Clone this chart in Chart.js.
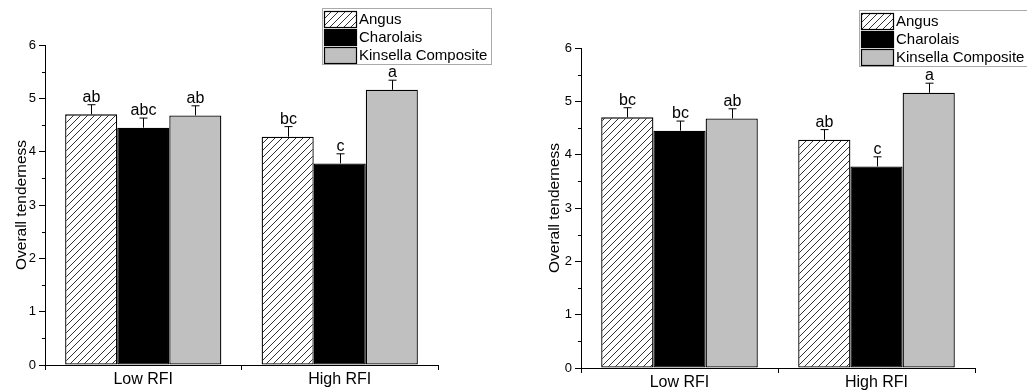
<!DOCTYPE html>
<html>
<head>
<meta charset="utf-8">
<script src="https://cdn.jsdelivr.net/npm/chart.js@4/dist/chart.umd.min.js"></script>
<style>
  html, body { margin: 0; padding: 0; background: #fff; }
  #wrap { position: relative; width: 1027px; height: 391px; overflow: hidden; }
  canvas { position: absolute; top: 0; }
</style>
</head>
<body>
<div id="wrap">
  <canvas id="left" width="520" height="391" style="left:0"></canvas>
  <canvas id="right" width="507" height="391" style="left:520px"></canvas>
</div>
<script>
// data
var groups = ["Low RFI", "High RFI"];
var breeds = ["Angus", "Charolais", "Kinsella Composite"];
var angus = [4.70, 4.28];
var charolais = [4.45, 3.78];
var kinsella = [4.68, 5.16];
var angusErr = [0.18, 0.19];
var charolaisErr = [0.18, 0.18];
var kinsellaErr = [0.18, 0.18];
var yTicks = [0, 1, 2, 3, 4, 5, 6];

// significance letters, left and right panels
var lettersLeft = [["ab", "bc"], ["abc", "c"], ["ab", "a"]];
var lettersRight = [["bc", "ab"], ["bc", "c"], ["ab", "a"]];

var FONT = "'Liberation Sans', Arial, Helvetica, sans-serif";

// hatch pattern for Angus
function makeHatch() {
	var s = 7;
	var c = document.createElement("canvas");
	c.width = s; c.height = s;
	var g = c.getContext("2d");
	g.fillStyle = "#fff";
	g.fillRect(0, 0, s, s);
	g.strokeStyle = "#333";
	g.lineWidth = 1;
	g.beginPath();
	g.moveTo(0, s); g.lineTo(s, 0);
	g.moveTo(-1, 1); g.lineTo(1, -1);
	g.moveTo(s - 1, s + 1); g.lineTo(s + 1, s - 1);
	g.stroke();
	return g.createPattern(c, "repeat");
}

// error bars, letters, minor ticks and legend box
var extras = {
	id: "extras",
	afterDatasetsDraw: function(chart, args, opts) {
		var ctx = chart.ctx;
		var y = chart.scales.y;
		var errs = [angusErr, charolaisErr, kinsellaErr];
		ctx.save();
		ctx.strokeStyle = "#000";
		ctx.fillStyle = "#000";
		ctx.lineWidth = 1;
		ctx.font = "16px " + FONT;
		ctx.textAlign = "center";
		ctx.textBaseline = "alphabetic";
		chart.data.datasets.forEach(function(ds, i) {
			var meta = chart.getDatasetMeta(i);
			meta.data.forEach(function(bar, j) {
				var x = Math.round(bar.x) + 0.5;
				var top = y.getPixelForValue(ds.data[j] + errs[i][j]);
				ctx.beginPath();
				ctx.moveTo(x, bar.y);
				ctx.lineTo(x, top);
				ctx.moveTo(x - 4, top);
				ctx.lineTo(x + 4, top);
				ctx.stroke();
				ctx.fillText(opts.letters[i][j], x, top - 3);
			});
		});
		// minor ticks
		var left = chart.chartArea.left;
		for (var v = 0.5; v < 6; v += 1) {
			var py = Math.round(y.getPixelForValue(v)) + 0.5;
			ctx.beginPath();
			ctx.moveTo(left, py);
			ctx.lineTo(left - 3, py);
			ctx.stroke();
		}
		ctx.restore();
	},
	afterDraw: function(chart, args, opts) {
		var ctx = chart.ctx;
		var lg = opts.legend;
		ctx.save();
		ctx.strokeStyle = "#aaa";
		ctx.lineWidth = 1;
		ctx.strokeRect(lg.x + 0.5, lg.y + 0.5, lg.w, lg.h);
		ctx.font = "15px " + FONT;
		ctx.textAlign = "left";
		ctx.textBaseline = "middle";
		chart.data.datasets.forEach(function(ds, i) {
			var ry = lg.y + 3 + i * 18;
			ctx.fillStyle = ds.backgroundColor;
			ctx.fillRect(lg.x + 2, ry, 33, 17);
			ctx.strokeStyle = "#000";
			ctx.lineWidth = 1.2;
			ctx.strokeRect(lg.x + 2.5, ry + 0.5, 32, 16);
			ctx.fillStyle = "#000";
			ctx.fillText(ds.label, lg.x + 37, ry + 8.5);
		});
		ctx.restore();
	}
};

function makeChart(id, letters, geom) {
	var ctx = document.getElementById(id).getContext("2d");
	var hatch = makeHatch();
	var series = [angus, charolais, kinsella];
	var fills = [hatch, "#000000", "#c0c0c0"];
	var datasets = [];
	for (var i in breeds) {
		datasets.push({
			label: breeds[i],
			data: series[i],
			backgroundColor: fills[i],
			borderColor: "#000",
			borderWidth: 1.3,
			borderSkipped: false,
			categoryPercentage: 0.795,
			barPercentage: 1.0
		});
	}
	return new Chart(ctx, {
		type: "bar",
		data: { labels: groups, datasets: datasets },
		plugins: [extras],
		options: {
			responsive: false,
			animation: false,
			events: [],
			layout: { padding: { left: 0, right: geom.padRight, top: geom.top, bottom: 0 } },
			plugins: {
				legend: { display: false },
				tooltip: { enabled: false },
				extras: { letters: letters, legend: geom.legend }
			},
			scales: {
				x: {
					offset: true,
					grid: { display: true, drawOnChartArea: false, offset: true, tickLength: 5, color: "#000", tickColor: "#000" },
					border: { display: true, color: "#000", width: 1 },
					ticks: { color: "#000", padding: geom.xPad, font: { family: FONT, size: 16 } },
					afterFit: function(s) { s.height = geom.xHeight; }
				},
				y: {
					min: 0, max: 6,
					afterBuildTicks: function(s) { s.ticks = yTicks.map(function(v) { return { value: v }; }); },
					grid: { display: true, drawOnChartArea: false, tickLength: 6, color: "#000", tickColor: "#000" },
					border: { display: true, color: "#000", width: 1 },
					ticks: { color: "#000", padding: 3, font: { family: FONT, size: 13 } },
					title: { display: true, text: "Overall tenderness", color: "#000", padding: { top: geom.titlePad, bottom: 0 }, font: { family: FONT, size: 15.5 } },
					afterFit: function(s) { s.width = geom.yWidth; }
				}
			}
		}
	});
}

var leftChart = makeChart("left", lettersLeft, {
	padRight: 82, top: 45, xHeight: 26, xPad: 0, yWidth: 45, titlePad: 12,
	legend: { x: 322, y: 8, w: 169, h: 56 }
});
var rightChart = makeChart("right", lettersRight, {
	padRight: 52, top: 48, xHeight: 23, xPad: 0, yWidth: 61, titlePad: 25,
	legend: { x: 339, y: 10, w: 200, h: 56 }
});
</script>
</body>
</html>
